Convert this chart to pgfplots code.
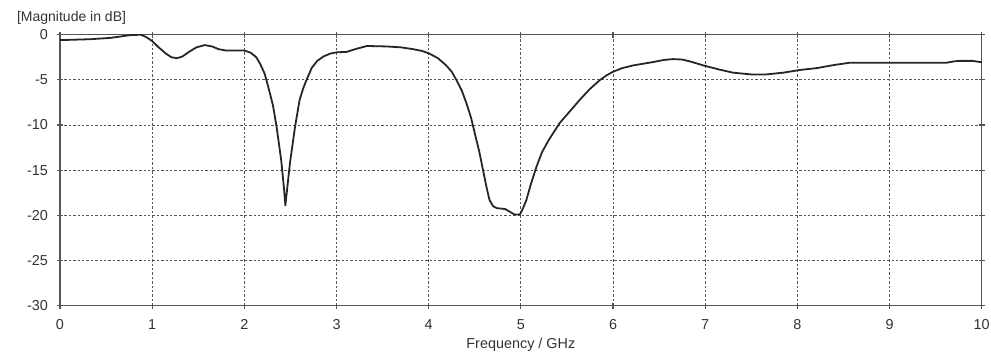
\documentclass[border=0pt]{standalone}
\usepackage{fontspec}
\setmainfont{Liberation Sans}
\usepackage{pgfplots}
\pgfplotsset{compat=1.18}
\definecolor{axgray}{HTML}{555555}
\definecolor{gridgray}{HTML}{555555}
\definecolor{txtgray}{HTML}{333333}
\begin{document}
\begin{tikzpicture}
\begin{axis}[
  scale only axis,
  width=460.85pt, height=135.5pt,
  xmin=0, xmax=10, ymin=-30, ymax=0,
  xtick={0,1,...,10}, ytick={-30,-25,...,0},
  grid=major,
  major grid style={gridgray, line width=0.5pt, dash pattern=on 1.2pt off 1pt},
  axis line style={axgray, line width=0.6pt},
  tick style={axgray, line width=0.6pt},
  tick align=center, major tick length=3pt,
  tick label style={font=\fontsize{7.2}{8}\selectfont, text=txtgray},
  /pgf/number format/assume math mode=true,
  yticklabel style={xshift=-1pt},
  xticklabel style={yshift=-2pt},
]
\addplot[black!85, line width=0.9pt, line join=round] coordinates {
(0,-0.6) (0.33,-0.5) (0.55,-0.35) (0.76,-0.05) (0.88,0.0) (0.94,-0.3)
(1.0,-0.7) (1.07,-1.4) (1.15,-2.1) (1.21,-2.5) (1.27,-2.6) (1.33,-2.4)
(1.4,-1.9) (1.48,-1.4) (1.57,-1.15) (1.65,-1.3) (1.72,-1.6) (1.8,-1.75)
(2.0,-1.75) (2.07,-2.0) (2.13,-2.5) (2.17,-3.2) (2.22,-4.3) (2.26,-5.8)
(2.31,-7.8) (2.35,-10.2) (2.40,-13.9) (2.43,-17.0) (2.445,-18.9) (2.46,-17.5)
(2.495,-14.2) (2.55,-10.2) (2.60,-7.2) (2.64,-5.9) (2.675,-5.0) (2.73,-3.7)
(2.79,-2.9) (2.86,-2.4) (2.93,-2.1) (3.0,-1.95) (3.11,-1.9) (3.22,-1.55)
(3.33,-1.25) (3.54,-1.3) (3.7,-1.4) (3.83,-1.6) (3.93,-1.8) (4.01,-2.1)
(4.1,-2.6) (4.19,-3.4) (4.25,-4.1) (4.30,-5.0) (4.36,-6.2) (4.41,-7.6)
(4.46,-9.2) (4.50,-10.9) (4.55,-13.0) (4.59,-15.0) (4.63,-17.0) (4.66,-18.3)
(4.70,-19.0) (4.74,-19.2) (4.83,-19.3) (4.88,-19.6) (4.93,-19.9) (4.99,-19.9)
(5.02,-19.3) (5.06,-18.3) (5.11,-16.5) (5.17,-14.6) (5.23,-13.0) (5.30,-11.7)
(5.42,-9.8) (5.53,-8.5) (5.64,-7.2) (5.75,-6.0) (5.86,-5.0) (5.93,-4.5)
(6.0,-4.1) (6.1,-3.7) (6.22,-3.4) (6.45,-3.0) (6.55,-2.8) (6.65,-2.7)
(6.75,-2.75) (6.85,-3.0) (6.98,-3.4) (7.15,-3.85) (7.30,-4.2) (7.5,-4.4)
(7.66,-4.4) (7.85,-4.2) (8.03,-3.9) (8.21,-3.7) (8.4,-3.35) (8.57,-3.1)
(9.0,-3.1) (9.62,-3.1) (9.7,-2.95) (9.76,-2.9) (9.9,-2.9) (10,-3.05)
};
\end{axis}
\node[anchor=west, text=txtgray, font=\fontsize{7}{8}\selectfont] at ([xshift=-25pt,yshift=8.6pt]current axis.north west) {[Magnitude in dB]};
\node[anchor=center, text=txtgray, font=\fontsize{7.2}{8}\selectfont] at ([yshift=-19.6pt]current axis.south) {Frequency / GHz};
\pgfresetboundingbox
\path ([xshift=-30pt,yshift=-26.15pt]current axis.south west) rectangle ([xshift=4.65pt,yshift=17.35pt]current axis.north east);
\end{tikzpicture}
\end{document}
